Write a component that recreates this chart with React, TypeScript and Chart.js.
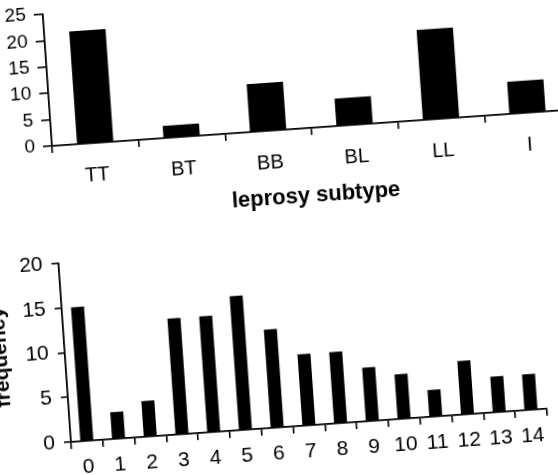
import React, { useEffect, useRef } from 'react';
import { Chart, registerables } from 'chart.js';

Chart.register(...registerables);

// ---- data ----
const subtypeLabels = ['TT', 'BT', 'BB', 'BL', 'LL', 'I'];
const subtypeValues = [21.4, 2.3, 9.1, 5.2, 17.1, 6.1];
const subtypeMax = 25;
const subtypeStep = 5;
const subtypeTitle = 'leprosy subtype';

const countLabels = ['0', '1', '2', '3', '4', '5', '6', '7', '8', '9', '10', '11', '12', '13', '14'];
const countValues = [15, 3, 4, 13, 13, 15, 11, 8, 8, 6, 5, 3, 6, 4, 4];
const countMax = 20;
const countStep = 5;
const countYTitle = 'frequency';

const FONT = '"Liberation Sans", Arial, Helvetica, sans-serif';

type PanelProps = {
  labels: string[];
  values: number[];
  yMax: number;
  stepSize: number;
  width: number;
  height: number;
  padTop: number;
  yAxisWidth: number;
  xAxisHeight: number;
  yFont: number;
  xFont: number;
  titleFont: number;
  tickLenY: number;
  tickLenX: number;
  yPad: number;
  xPad: number;
  barPct: number;
  xTitle?: string;
  yTitle?: string;
  yTitlePadTop?: number;
  originX: number;
  originY: number;
  angle: number;
};

function BarPanel(p: PanelProps) {
  const wrapRef = useRef<HTMLDivElement>(null);
  const canvasRef = useRef<HTMLCanvasElement>(null);

  useEffect(() => {
    const chart = new Chart(canvasRef.current as HTMLCanvasElement, {
      type: 'bar',
      data: {
        labels: p.labels,
        datasets: [
          {
            data: p.values,
            backgroundColor: '#000',
            borderWidth: 0,
            barPercentage: p.barPct,
            categoryPercentage: 1,
          },
        ],
      },
      options: {
        responsive: false,
        animation: false,
        devicePixelRatio: 1,
        layout: { padding: { top: p.padTop, right: 10, left: 0, bottom: 0 } },
        plugins: { legend: { display: false }, tooltip: { enabled: false } },
        scales: {
          x: {
            offset: true,
            grid: {
              offset: true,
              drawOnChartArea: false,
              drawTicks: true,
              tickLength: p.tickLenX,
              color: '#000',
              lineWidth: 1.6,
            },
            border: { display: true, color: '#000', width: 1.8 },
            ticks: {
              color: '#000',
              font: { family: FONT, size: p.xFont },
              padding: p.xPad,
              maxRotation: 0,
              minRotation: 0,
              autoSkip: false,
            },
            title: p.xTitle
              ? {
                  display: true,
                  text: p.xTitle,
                  color: '#000',
                  font: { family: FONT, size: p.titleFont, weight: 'bold' },
                  padding: { top: 0, bottom: 4 },
                }
              : { display: false },
            afterFit: (s: any) => {
              s.height = p.xAxisHeight;
            },
          },
          y: {
            min: 0,
            max: p.yMax,
            ticks: {
              stepSize: p.stepSize,
              color: '#000',
              font: { family: FONT, size: p.yFont },
              padding: p.yPad,
            },
            grid: {
              drawOnChartArea: false,
              drawTicks: true,
              tickLength: p.tickLenY,
              color: '#000',
              lineWidth: 1.6,
            },
            border: { display: true, color: '#000', width: 1.8 },
            title: p.yTitle
              ? {
                  display: true,
                  text: p.yTitle,
                  color: '#000',
                  font: { family: FONT, size: p.titleFont, weight: 'bold' },
                  padding: { top: p.yTitlePadTop ?? 0, bottom: 0 },
                }
              : { display: false },
            afterFit: (s: any) => {
              s.width = p.yAxisWidth;
            },
          },
        },
      },
    } as any);

    const a = chart.chartArea;
    const w = wrapRef.current as HTMLDivElement;
    w.style.left = `${p.originX - a.left}px`;
    w.style.top = `${p.originY - a.bottom}px`;
    w.style.transformOrigin = `${a.left}px ${a.bottom}px`;
    w.style.transform = `rotate(${p.angle}deg)`;

    return () => chart.destroy();
  }, []);

  return (
    <div ref={wrapRef} style={{ position: 'absolute', width: p.width, height: p.height }}>
      <canvas
        ref={canvasRef}
        width={p.width}
        height={p.height}
        style={{ display: 'block', width: p.width, height: p.height }}
      />
    </div>
  );
}

export default function App() {
  return (
    <div
      style={{
        position: 'fixed',
        left: 0,
        top: 0,
        width: 558,
        height: 475,
        overflow: 'hidden',
        background: '#fff',
      }}
    >
      <BarPanel
        labels={subtypeLabels}
        values={subtypeValues}
        yMax={subtypeMax}
        stepSize={subtypeStep}
        width={590}
        height={241}
        padTop={24}
        yAxisWidth={60}
        xAxisHeight={85}
        yFont={19}
        xFont={20}
        titleFont={22}
        tickLenY={9}
        tickLenX={7}
        yPad={8}
        xPad={13.5}
        barPct={0.42}
        xTitle={subtypeTitle}
        originX={51.5}
        originY={145.7}
        angle={-4}
      />
      <BarPanel
        labels={countLabels}
        values={countValues}
        yMax={countMax}
        stepSize={countStep}
        width={567}
        height={253}
        padTop={24}
        yAxisWidth={80}
        xAxisHeight={50}
        yFont={21}
        xFont={21}
        titleFont={21}
        tickLenY={7}
        tickLenX={7}
        yPad={9}
        xPad={7}
        barPct={0.41}
        yTitle={countYTitle}
        yTitlePadTop={4}
        originX={71}
        originY={442.3}
        angle={-4}
      />
    </div>
  );
}
